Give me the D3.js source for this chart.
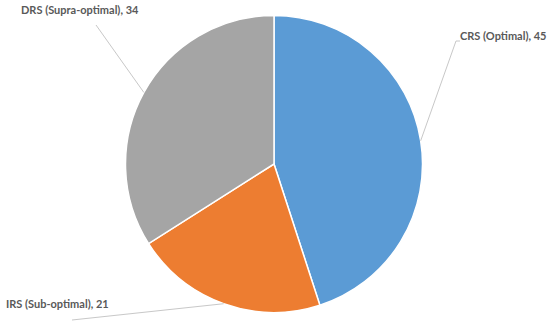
<!DOCTYPE html>
<html>
<head>
<meta charset="utf-8">
<script src="https://cdn.jsdelivr.net/npm/d3@7"></script>
<style>
  body { margin: 0; background: #fff; }
  text { font-family: Lato, "Open Sans", sans-serif; font-weight: bold; font-size: 11px; fill: #595959; }
</style>
</head>
<body>
<svg width="550" height="326"></svg>
<script>
var categories = ["CRS (Optimal)", "IRS (Sub-optimal)", "DRS (Supra-optimal)"];
var values = [45, 21, 34];
var colors = ["#5B9BD5", "#ED7D31", "#A5A5A5"];

var svg = d3.select("svg")
    , width = +svg.attr("width")
    , height = +svg.attr("height")
    , cx = 274, cy = 164
    , radius = 148.5
    , g = svg.append("g").attr("transform", "translate(" + cx + "," + cy + ")");

var data = categories.map(function (c, i) { return { name: c, value: values[i] }; });

var color = d3.scaleOrdinal().domain(categories).range(colors);
var pie = d3.pie().sort(null).value(function (d) { return d.value; });
var path = d3.arc().outerRadius(radius).innerRadius(0);
var edge = d3.arc().outerRadius(radius).innerRadius(radius);

// where each label sits (relative to centre) and where its leader line ends
var labelLayout = {
    "CRS (Optimal)": { tx: 186, ty: -128, lx: 182, ly: -123, anchor: "start" },
    "IRS (Sub-optimal)": { tx: -268, ty: 140, lx: -202, ly: 156, anchor: "start" },
    "DRS (Supra-optimal)": { tx: -253, ty: -154, lx: -178, ly: -139, anchor: "start" }
};

var arcs = g.selectAll(".arc").data(pie(data)).enter().append("g").attr("class", "arc");

arcs.append("path")
    .attr("d", path)
    .attr("fill", function (d) { return color(d.data.name); })
    .attr("stroke", "#fff")
    .attr("stroke-width", 1.5);

arcs.append("polyline")
    .attr("fill", "none")
    .attr("stroke", "#c8c8c8")
    .attr("stroke-width", 1)
    .attr("points", function (d) {
        var p = edge.centroid(d), L = labelLayout[d.data.name];
        var pts = [p, [L.lx, L.ly]];
        if (d.data.name === "CRS (Optimal)") pts.push([L.lx + 4, L.ly]);
        return pts.join(" ");
    });

arcs.append("text")
    .attr("x", function (d) { return labelLayout[d.data.name].tx; })
    .attr("y", function (d) { return labelLayout[d.data.name].ty; })
    .attr("dy", "0.35em")
    .attr("text-anchor", function (d) { return labelLayout[d.data.name].anchor; })
    .text(function (d) { return d.data.name + ", " + d.data.value; });
</script>
</body>
</html>
